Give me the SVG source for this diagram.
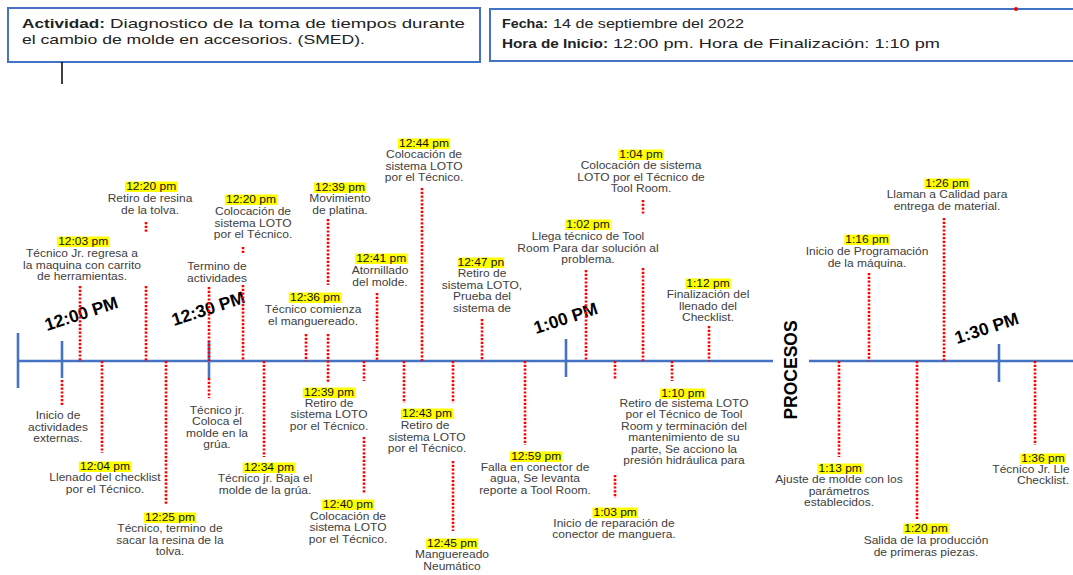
<svg xmlns="http://www.w3.org/2000/svg" width="1073" height="575" viewBox="0 0 1073 575">
<style>
.hdr{font-family:"Liberation Sans",Arial,sans-serif;font-size:13px;fill:#222}
.b{font-weight:bold}
.box{fill:#fff;stroke:#4472C4;stroke-width:2}
.t{font-family:"Liberation Sans",Arial,sans-serif;font-size:10.3px;fill:#404040;text-anchor:middle}
.ts{text-anchor:start}
.tm{font-family:"Liberation Sans",Arial,sans-serif;font-size:10.3px;fill:#111;text-anchor:middle}
.hl{fill:#FFFF00}
.dot{stroke:#FF0000;stroke-width:2.6;stroke-dasharray:2.2 1.6;fill:none}
.axis{stroke:#4472C4;stroke-width:2.6;fill:none}
.big{font-family:"Liberation Sans",Arial,sans-serif;font-weight:bold;font-size:17.5px;fill:#000}
</style>
<rect width="1073" height="575" fill="#fff"/>
<g id="header-actividad">
<rect class="box" x="8" y="8" width="472" height="54"/>
<text class="hdr b" x="22" y="28" textLength="83" lengthAdjust="spacingAndGlyphs">Actividad:</text>
<text class="hdr" x="110" y="28" textLength="355" lengthAdjust="spacingAndGlyphs">Diagnostico de la toma de tiempos durante</text>
<text class="hdr" x="22" y="44" textLength="343" lengthAdjust="spacingAndGlyphs">el cambio de molde en accesorios. (SMED).</text>
</g>
<g id="header-fecha">
<rect class="box" x="490" y="9" width="590" height="52"/>
<text class="hdr b" x="502" y="28" textLength="46" lengthAdjust="spacingAndGlyphs">Fecha:</text>
<text class="hdr" x="553" y="28" textLength="191" lengthAdjust="spacingAndGlyphs">14 de septiembre del 2022</text>
<text class="hdr b" x="502" y="48" textLength="106" lengthAdjust="spacingAndGlyphs">Hora de Inicio:</text>
<text class="hdr" x="613" y="48" textLength="327" lengthAdjust="spacingAndGlyphs">12:00 pm. Hora de Finalización: 1:10 pm</text>
<circle cx="1016" cy="9" r="2" fill="#FF0000"/>
</g>
<line x1="62" y1="62" x2="62" y2="84" stroke="#000" stroke-width="1.5"/>
<g id="timeline">
<line class="axis" x1="17" y1="361" x2="773" y2="361"/>
<line class="axis" x1="809" y1="361" x2="1073" y2="361"/>
<line class="axis" x1="18" y1="333" x2="18" y2="388"/>
<line class="axis" x1="62" y1="341" x2="62" y2="378"/>
<line class="axis" x1="209" y1="341" x2="209" y2="378"/>
<line class="axis" x1="566" y1="339" x2="566" y2="377"/>
<line class="axis" x1="999" y1="344" x2="999" y2="382"/>
<text class="big" transform="translate(47,331) rotate(-18)">12:00 PM</text>
<text class="big" transform="translate(174,326) rotate(-18)">12:30 PM</text>
<text class="big" transform="translate(536,334) rotate(-18)">1:00 PM</text>
<text class="big" transform="translate(957,344) rotate(-18)">1:30 PM</text>
<text class="big" font-size="13.5" text-anchor="middle" transform="translate(797,370) rotate(-90)">PROCESOS</text>
</g>
<g id="connectors">
<line class="dot" x1="80" y1="286" x2="80" y2="361"/>
<line class="dot" x1="146" y1="222" x2="146" y2="232"/>
<line class="dot" x1="146" y1="286" x2="146" y2="361"/>
<line class="dot" x1="209" y1="287" x2="209" y2="361"/>
<line class="dot" x1="243" y1="247" x2="243" y2="253"/>
<line class="dot" x1="243" y1="285" x2="243" y2="361"/>
<line class="dot" x1="306" y1="334" x2="306" y2="361"/>
<line class="dot" x1="328" y1="219" x2="328" y2="285"/>
<line class="dot" x1="328" y1="334" x2="328" y2="382"/>
<line class="dot" x1="377" y1="293" x2="377" y2="361"/>
<line class="dot" x1="422" y1="188" x2="422" y2="361"/>
<line class="dot" x1="482" y1="319" x2="482" y2="361"/>
<line class="dot" x1="586" y1="270" x2="586" y2="361"/>
<line class="dot" x1="643" y1="200" x2="643" y2="215"/>
<line class="dot" x1="643" y1="268" x2="643" y2="361"/>
<line class="dot" x1="709" y1="326" x2="709" y2="361"/>
<line class="dot" x1="869" y1="273" x2="869" y2="361"/>
<line class="dot" x1="944" y1="218" x2="944" y2="361"/>
<line class="dot" x1="62" y1="380" x2="62" y2="405"/>
<line class="dot" x1="102" y1="361" x2="102" y2="453"/>
<line class="dot" x1="166" y1="361" x2="166" y2="505"/>
<line class="dot" x1="209" y1="378" x2="209" y2="398"/>
<line class="dot" x1="264" y1="361" x2="264" y2="457"/>
<line class="dot" x1="364" y1="361" x2="364" y2="381"/>
<line class="dot" x1="364" y1="437" x2="364" y2="493"/>
<line class="dot" x1="404" y1="361" x2="404" y2="403"/>
<line class="dot" x1="453" y1="361" x2="453" y2="403"/>
<line class="dot" x1="453" y1="461" x2="453" y2="531"/>
<line class="dot" x1="525" y1="361" x2="525" y2="445"/>
<line class="dot" x1="615" y1="361" x2="615" y2="380"/>
<line class="dot" x1="615" y1="475" x2="615" y2="498"/>
<line class="dot" x1="672" y1="361" x2="672" y2="381"/>
<line class="dot" x1="839" y1="361" x2="839" y2="457"/>
<line class="dot" x1="917" y1="361" x2="917" y2="519"/>
<line class="dot" x1="1035" y1="361" x2="1035" y2="445"/>
</g>
<g id="ev-1203" transform="translate(82,0) scale(1.165,1)"><rect class="hl" x="-21.5" y="236.5" width="45" height="10.5"/><text class="tm" x="1" y="245">12:03 pm</text>
<text class="t" y="257"><tspan x="0">Técnico Jr. regresa a</tspan><tspan x="0" dy="11.6">la maquina con carrito</tspan><tspan x="0" dy="11.6">de herramientas.</tspan></text></g>
<g id="ev-1220a" transform="translate(150,0) scale(1.165,1)"><rect class="hl" x="-21.5" y="181.5" width="45" height="10.5"/><text class="tm" x="1" y="190">12:20 pm</text>
<text class="t" y="202"><tspan x="0">Retiro de resina</tspan><tspan x="0" dy="11.6">de la tolva.</tspan></text></g>
<g id="ev-termino" transform="translate(217,0) scale(1.165,1)"><text class="t" y="270"><tspan x="0">Termino de</tspan><tspan x="0" dy="11.6">actividades</tspan></text></g>
<g id="ev-1220b" transform="translate(253,0) scale(1.165,1)"><rect class="hl" x="-24.2" y="194.5" width="45" height="10.5"/><text class="tm" x="-1.7" y="203">12:20 pm</text>
<text class="t" y="215"><tspan x="0">Colocación de</tspan><tspan x="0" dy="11.6">sistema LOTO</tspan><tspan x="0" dy="11.6">por el Técnico.</tspan></text></g>
<g id="ev-1236" transform="translate(313,0) scale(1.165,1)"><rect class="hl" x="-20.8" y="292.5" width="45" height="10.5"/><text class="tm" x="1.7" y="301">12:36 pm</text>
<text class="t" y="313"><tspan x="0">Técnico comienza</tspan><tspan x="0" dy="11.6">el manguereado.</tspan></text></g>
<g id="ev-1239a" transform="translate(340,0) scale(1.165,1)"><rect class="hl" x="-22.5" y="182.5" width="45" height="10.5"/><text class="tm" x="0" y="191">12:39 pm</text>
<text class="t" y="202"><tspan x="0">Movimiento</tspan><tspan x="0" dy="11.6">de platina.</tspan></text></g>
<g id="ev-1241" transform="translate(380,0) scale(1.165,1)"><rect class="hl" x="-21.5" y="253.5" width="45" height="10.5"/><text class="tm" x="1" y="262">12:41 pm</text>
<text class="t" y="274"><tspan x="0">Atornillado</tspan><tspan x="0" dy="11.6">del molde.</tspan></text></g>
<g id="ev-1244" transform="translate(424,0) scale(1.165,1)"><rect class="hl" x="-22.5" y="138.5" width="45" height="10.5"/><text class="tm" x="0" y="147">12:44 pm</text>
<text class="t" y="158"><tspan x="0">Colocación de</tspan><tspan x="0" dy="11.6">sistema LOTO</tspan><tspan x="0" dy="11.6">por el Técnico.</tspan></text></g>
<g id="ev-1247" transform="translate(482,0) scale(1.165,1)"><rect class="hl" x="-20.5" y="257.5" width="39.5" height="10.5"/><text class="tm" x="-1" y="266">12:47 pn</text>
<text class="t" y="277"><tspan x="0">Retiro de</tspan><tspan x="0" dy="11.6">sistema LOTO,</tspan><tspan x="0" dy="11.6">Prueba del</tspan><tspan x="0" dy="11.6">sistema de</tspan></text></g>
<g id="ev-102" transform="translate(588,0) scale(1.165,1)"><rect class="hl" x="-19.5" y="219.5" width="39" height="10.5"/><text class="tm" x="0" y="228">1:02 pm</text>
<text class="t" y="240"><tspan x="0">Llega técnico de Tool</tspan><tspan x="0" dy="11.6">Room Para dar solución al</tspan><tspan x="0" dy="11.6">problema.</tspan></text></g>
<g id="ev-104" transform="translate(641,0) scale(1.165,1)"><rect class="hl" x="-19.5" y="149.5" width="39" height="10.5"/><text class="tm" x="0" y="158">1:04 pm</text>
<text class="t" y="169"><tspan x="0">Colocación de sistema</tspan><tspan x="0" dy="11.6">LOTO por el Técnico de</tspan><tspan x="0" dy="11.6">Tool Room.</tspan></text></g>
<g id="ev-112" transform="translate(708,0) scale(1.165,1)"><rect class="hl" x="-19.5" y="278.5" width="39" height="10.5"/><text class="tm" x="0" y="287">1:12 pm</text>
<text class="t" y="298"><tspan x="0">Finalización del</tspan><tspan x="0" dy="11.6">llenado del</tspan><tspan x="0" dy="11.6">Checklist.</tspan></text></g>
<g id="ev-116" transform="translate(867,0) scale(1.165,1)"><rect class="hl" x="-19.5" y="234.5" width="39" height="10.5"/><text class="tm" x="0" y="243">1:16 pm</text>
<text class="t" y="255"><tspan x="0">Inicio de Programación</tspan><tspan x="0" dy="11.6">de la máquina.</tspan></text></g>
<g id="ev-126" transform="translate(947,0) scale(1.165,1)"><rect class="hl" x="-19.5" y="178.5" width="39" height="10.5"/><text class="tm" x="0" y="187">1:26 pm</text>
<text class="t" y="198"><tspan x="0">Llaman a Calidad para</tspan><tspan x="0" dy="11.6">entrega de material.</tspan></text></g>
<g id="ev-inicio" transform="translate(58,0) scale(1.165,1)"><text class="t" y="419"><tspan x="0">Inicio de</tspan><tspan x="0" dy="11.6">actividades</tspan><tspan x="0" dy="11.6">externas.</tspan></text></g>
<g id="ev-1204" transform="translate(105,0) scale(1.165,1)"><rect class="hl" x="-22.5" y="461.5" width="45" height="10.5"/><text class="tm" x="0" y="470">12:04 pm</text>
<text class="t" y="481"><tspan x="0">Llenado del checklist</tspan><tspan x="0" dy="11.6">por el Técnico.</tspan></text></g>
<g id="ev-1225" transform="translate(170,0) scale(1.165,1)"><rect class="hl" x="-22.5" y="512.5" width="45" height="10.5"/><text class="tm" x="0" y="521">12:25 pm</text>
<text class="t" y="532"><tspan x="0">Técnico, termino de</tspan><tspan x="0" dy="11.6">sacar la resina de la</tspan><tspan x="0" dy="11.6">tolva.</tspan></text></g>
<g id="ev-coloca" transform="translate(217,0) scale(1.165,1)"><text class="t" y="414"><tspan x="0">Técnico jr.</tspan><tspan x="0" dy="11.5">Coloca el</tspan><tspan x="0" dy="11.5">molde en la</tspan><tspan x="0" dy="11.5">grúa.</tspan></text></g>
<g id="ev-1234" transform="translate(265,0) scale(1.165,1)"><rect class="hl" x="-19.1" y="462.5" width="45" height="10.5"/><text class="tm" x="3.4" y="471">12:34 pm</text>
<text class="t" y="482"><tspan x="0">Técnico jr. Baja el</tspan><tspan x="0" dy="11.6">molde de la grúa.</tspan></text></g>
<g id="ev-1239b" transform="translate(329,0) scale(1.165,1)"><rect class="hl" x="-22.5" y="387.5" width="45" height="10.5"/><text class="tm" x="0" y="396">12:39 pm</text>
<text class="t" y="407"><tspan x="0">Retiro de</tspan><tspan x="0" dy="11.4">sistema LOTO</tspan><tspan x="0" dy="11.4">por el Técnico.</tspan></text></g>
<g id="ev-1240" transform="translate(348,0) scale(1.165,1)"><rect class="hl" x="-22.5" y="499.5" width="45" height="10.5"/><text class="tm" x="0" y="508">12:40 pm</text>
<text class="t" y="520"><tspan x="0">Colocación de</tspan><tspan x="0" dy="11.4">sistema LOTO</tspan><tspan x="0" dy="11.4">por el Técnico.</tspan></text></g>
<g id="ev-1243" transform="translate(427,0) scale(1.165,1)"><rect class="hl" x="-22.5" y="408.5" width="45" height="10.5"/><text class="tm" x="0" y="417">12:43 pm</text>
<text class="t" y="429"><tspan x="-1.7">Retiro de</tspan><tspan x="0" dy="11.6">sistema LOTO</tspan><tspan x="0" dy="11.6">por el Técnico.</tspan></text></g>
<g id="ev-1245" transform="translate(452,0) scale(1.165,1)"><rect class="hl" x="-22.5" y="538.5" width="45" height="10.5"/><text class="tm" x="0" y="547">12:45 pm</text>
<text class="t" y="558"><tspan x="0">Manguereado</tspan><tspan x="0" dy="11.6">Neumático</tspan></text></g>
<g id="ev-1259" transform="translate(535,0) scale(1.165,1)"><rect class="hl" x="-21.5" y="451.5" width="45" height="10.5"/><text class="tm" x="1" y="460">12:59 pm</text>
<text class="t" y="471"><tspan x="0">Falla en conector de</tspan><tspan x="0" dy="11.4">agua, Se levanta</tspan><tspan x="0" dy="11.4">reporte a Tool Room.</tspan></text></g>
<g id="ev-103" transform="translate(614,0) scale(1.165,1)"><rect class="hl" x="-18.5" y="507.5" width="39" height="10.5"/><text class="tm" x="1" y="516">1:03 pm</text>
<text class="t" y="527"><tspan x="0">Inicio de reparación de</tspan><tspan x="0" dy="11.4">conector de manguera.</tspan></text></g>
<g id="ev-110" transform="translate(684,0) scale(1.165,1)"><rect class="hl" x="-20.5" y="388.5" width="39" height="10.5"/><text class="tm" x="-1" y="397">1:10 pm</text>
<text class="t" y="407"><tspan x="0">Retiro de sistema LOTO</tspan><tspan x="0" dy="11.4">por el Técnico de Tool</tspan><tspan x="0" dy="11.4">Room y terminación del</tspan><tspan x="0" dy="11.4">mantenimiento de su</tspan><tspan x="0" dy="11.4">parte, Se acciono la</tspan><tspan x="0" dy="11.4">presión hidráulica para</tspan></text></g>
<g id="ev-113" transform="translate(839,0) scale(1.165,1)"><rect class="hl" x="-18.5" y="463.5" width="39" height="10.5"/><text class="tm" x="1" y="472">1:13 pm</text>
<text class="t" y="483"><tspan x="0">Ajuste de molde con los</tspan><tspan x="0" dy="11.6">parámetros</tspan><tspan x="0" dy="11.6">establecidos.</tspan></text></g>
<g id="ev-120" transform="translate(926,0) scale(1.165,1)"><rect class="hl" x="-19.5" y="523.5" width="39" height="10.5"/><text class="tm" x="0" y="532">1:20 pm</text>
<text class="t" y="544"><tspan x="0">Salida de la producción</tspan><tspan x="0" dy="11.6">de primeras piezas.</tspan></text></g>
<g id="ev-136" transform="translate(1043,0) scale(1.165,1)"><rect class="hl" x="-19.5" y="453.5" width="39" height="10.5"/><text class="tm" x="0" y="462">1:36 pm</text>
<text class="t ts" x="-43.5" y="473">Técnico Jr. Lle</text>
<text class="t" x="0" y="484">Checklist.</text></g>
</svg>
